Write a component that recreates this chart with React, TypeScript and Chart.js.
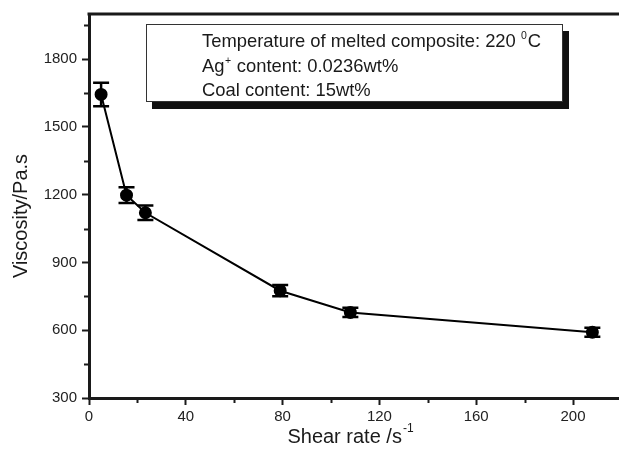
import React, { useEffect, useRef } from "react";
import { Chart, registerables } from "chart.js";

Chart.register(...registerables);

const shearRate = [5, 15.5, 23.3, 79, 108, 208];
const viscosity = [1644, 1198, 1120, 775, 679, 591];
const errorBar = [52, 35, 32, 25, 20, 20];
const xTicks = [0, 40, 80, 120, 160, 200];
const xMinorTicks = [20, 60, 100, 140, 180];
const yTicks = [300, 600, 900, 1200, 1500, 1800];
const yMinorTicks = [450, 750, 1050, 1350, 1650, 1950];
const xTitle = "Shear rate /s";
const xTitleSup = "-1";
const yTitle = "Viscosity/Pa.s";

const FONT = '"Liberation Sans", Arial, sans-serif';
const INK = "#1a1a1a";

const decorPlugin = {
  id: "decor",
  afterDatasetsDraw(chart: any) {
    const ctx = chart.ctx;
    const xs = chart.scales.x;
    const ys = chart.scales.y;
    ctx.save();
    ctx.strokeStyle = "#000";
    ctx.lineWidth = 2.5;
    for (let i = 0; i < shearRate.length; i++) {
      const px = xs.getPixelForValue(shearRate[i]);
      const top = ys.getPixelForValue(viscosity[i] + errorBar[i]);
      const bot = ys.getPixelForValue(viscosity[i] - errorBar[i]);
      ctx.beginPath();
      ctx.moveTo(px, top);
      ctx.lineTo(px, bot);
      ctx.moveTo(px - 8, top);
      ctx.lineTo(px + 8, top);
      ctx.moveTo(px - 8, bot);
      ctx.lineTo(px + 8, bot);
      ctx.stroke();
    }
    ctx.restore();
  },
  afterDraw(chart: any) {
    const ctx = chart.ctx;
    const a = chart.chartArea;
    const xs = chart.scales.x;
    const ys = chart.scales.y;
    ctx.save();
    // top and right frame
    ctx.strokeStyle = INK;
    ctx.lineWidth = 3;
    ctx.beginPath();
    ctx.moveTo(a.left - 1.5, a.top);
    ctx.lineTo(a.right, a.top);
    ctx.lineTo(a.right, a.bottom);
    ctx.stroke();
    // minor ticks
    ctx.lineWidth = 2;
    ctx.beginPath();
    for (const v of xMinorTicks) {
      const px = Math.round(xs.getPixelForValue(v)) + 0.5;
      ctx.moveTo(px, a.bottom);
      ctx.lineTo(px, a.bottom + 5);
    }
    for (const v of yMinorTicks) {
      const py = Math.round(ys.getPixelForValue(v)) + 0.5;
      ctx.moveTo(a.left, py);
      ctx.lineTo(a.left - 5, py);
    }
    ctx.stroke();

    // axis titles
    ctx.fillStyle = INK;
    ctx.font = `20px ${FONT}`;
    ctx.textBaseline = "middle";
    const mainW = ctx.measureText(xTitle).width;
    ctx.font = `12px ${FONT}`;
    const supW = ctx.measureText(xTitleSup).width;
    const tx = 350 - (mainW + supW) / 2;
    ctx.font = `20px ${FONT}`;
    ctx.textAlign = "left";
    ctx.fillText(xTitle, tx, 437);
    ctx.font = `12px ${FONT}`;
    ctx.fillText(xTitleSup, tx + mainW + 1, 429);

    ctx.save();
    ctx.translate(21, 216);
    ctx.rotate(-Math.PI / 2);
    ctx.font = `20px ${FONT}`;
    ctx.textAlign = "center";
    ctx.fillText(yTitle, 0, 0);
    ctx.restore();

    // legend / annotation box
    ctx.fillStyle = "#111";
    ctx.fillRect(152, 31, 417, 78);
    ctx.fillStyle = "#fff";
    ctx.fillRect(146, 24, 417, 78);
    ctx.strokeStyle = "#333";
    ctx.lineWidth = 1;
    ctx.strokeRect(146.5, 24.5, 416, 77);

    ctx.fillStyle = INK;
    ctx.textAlign = "left";
    ctx.textBaseline = "middle";
    const big = `18.4px ${FONT}`;
    const small = `10.5px ${FONT}`;
    const lx = 202;
    // line 1
    ctx.font = big;
    const l1 = "Temperature of melted composite: 220 ";
    ctx.fillText(l1, lx, 42);
    let w = ctx.measureText(l1).width;
    ctx.font = small;
    ctx.fillText("0", lx + w, 36);
    const w0 = ctx.measureText("0").width;
    ctx.font = big;
    ctx.fillText("C", lx + w + w0 + 1, 42);
    // line 2
    ctx.fillText("Ag", lx, 67);
    w = ctx.measureText("Ag").width;
    ctx.font = small;
    ctx.fillText("+", lx + w + 0.5, 61);
    const wp = ctx.measureText("+").width;
    ctx.font = big;
    ctx.fillText(" content: 0.0236wt%", lx + w + wp + 1, 67);
    // line 3
    ctx.fillText("Coal content: 15wt%", lx, 91);
    ctx.restore();
  },
};

export default function App() {
  const ref = useRef<HTMLCanvasElement | null>(null);
  useEffect(() => {
    if (!ref.current) return;
    const chart = new Chart(ref.current, {
      type: "scatter",
      data: {
        datasets: [
          {
            data: shearRate.map((x, i) => ({ x, y: viscosity[i] })),
            showLine: true,
            borderColor: "#000",
            backgroundColor: "#000",
            borderWidth: 2,
            pointRadius: 5.5,
            pointHoverRadius: 5.5,
            tension: 0,
          },
        ],
      },
      options: {
        responsive: false,
        animation: false,
        events: [],
        layout: { padding: { left: 0, top: 14, right: 8.6, bottom: 0 } },
        plugins: { legend: { display: false }, tooltip: { enabled: false } },
        scales: {
          x: {
            type: "linear",
            min: 0,
            max: 220,
            afterFit: (s: any) => {
              s.height = 52;
            },
            afterBuildTicks: (s: any) => {
              s.ticks = xTicks.map((v) => ({ value: v }));
            },
            grid: {
              drawOnChartArea: false,
              tickLength: 7,
              tickWidth: 2,
              tickColor: INK,
            },
            border: { display: true, color: INK, width: 3 },
            ticks: {
              color: "#222",
              font: { family: FONT, size: 15 },
              padding: 3,
              maxRotation: 0,
              autoSkip: false,
              callback: (v: any) => String(v),
            },
          },
          y: {
            type: "linear",
            min: 300,
            max: 2000,
            afterFit: (s: any) => {
              s.width = 89;
            },
            afterBuildTicks: (s: any) => {
              s.ticks = yTicks.map((v) => ({ value: v }));
            },
            grid: {
              drawOnChartArea: false,
              tickLength: 7,
              tickWidth: 2,
              tickColor: INK,
            },
            border: { display: true, color: INK, width: 3 },
            ticks: {
              color: "#222",
              font: { family: FONT, size: 15 },
              padding: 5,
              autoSkip: false,
              callback: (v: any) => String(v),
            },
          },
        },
      },
      plugins: [decorPlugin],
    });
    return () => chart.destroy();
  }, []);
  return (
    <div
      style={{
        position: "fixed",
        left: 0,
        top: 0,
        width: 619,
        height: 450,
        overflow: "hidden",
        background: "#fff",
      }}
    >
      <canvas ref={ref} width={630} height={450} style={{ display: "block", width: 630, height: 450 }} />
    </div>
  );
}
